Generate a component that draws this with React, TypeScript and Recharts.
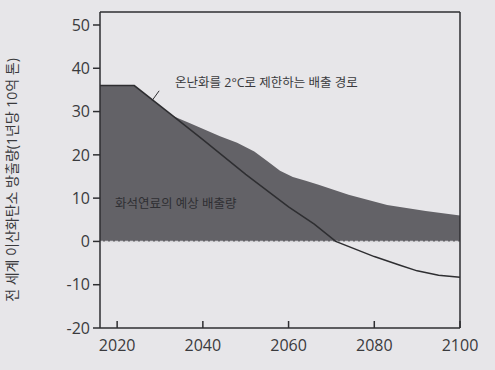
import {
  ComposedChart,
  Area,
  Line,
  XAxis,
  YAxis,
  ReferenceLine,
  ReferenceDot,
  Label,
} from "recharts";

// 화석연료의 예상 배출량 (10억 톤/년)
const fossilYears = [2016, 2024, 2033, 2037, 2044, 2048, 2052, 2055, 2058, 2061, 2064, 2067, 2074, 2083, 2092, 2100];
const fossilValues = [36, 36, 29, 27.3, 24.3, 22.8, 20.8, 18.6, 16.3, 14.9, 14.0, 13.1, 10.8, 8.4, 7, 6];

// 온난화를 2°C로 제한하는 배출 경로
const pathYears = [2016, 2024, 2033, 2040, 2050, 2060, 2066, 2071, 2080, 2086, 2090, 2095, 2100];
const pathValues = [36, 36, 29, 23.5, 15.5, 8, 4, 0, -3.5, -5.5, -6.8, -7.8, -8.3];

const xTicks = [2020, 2040, 2060, 2080, 2100];
const yTicks = [-20, -10, 0, 10, 20, 30, 40, 50];

const fossilData = fossilYears.map((year, i) => ({ year, value: fossilValues[i] }));
const pathData = pathYears.map((year, i) => ({ year, value: pathValues[i] }));

const INK = "#2e2e31";
const TEXT = "#3a3a3d";

function XTick({ x, y, payload }: any) {
  return (
    <g>
      <line x1={x} y1={y} x2={x} y2={y - 7} stroke={INK} strokeWidth={1.5} />
      <text x={x} y={y + 23} textAnchor="middle" fill={TEXT} fontSize={16}>
        {payload.value}
      </text>
    </g>
  );
}

export default function App() {
  return (
    <div
      style={{
        position: "absolute",
        left: 0,
        top: 0,
        width: 495,
        height: 370,
        background: "#e7e6e9",
        fontFamily: "'Open Sans', 'Noto Sans CJK KR', sans-serif",
      }}
    >
      <ComposedChart
        width={495}
        height={370}
        margin={{ top: 12, right: 35, left: 0, bottom: 0 }}
      >
        <XAxis
          dataKey="year"
          type="number"
          domain={[2016, 2100]}
          ticks={xTicks}
          allowDataOverflow
          axisLine={{ stroke: INK, strokeWidth: 1.5 }}
          tickLine={false}
          tickSize={0}
          tickMargin={0}
          tick={<XTick />}
          height={42}
        />
        <YAxis
          type="number"
          domain={[-20, 53]}
          ticks={yTicks}
          allowDataOverflow
          width={100}
          axisLine={{ stroke: INK, strokeWidth: 1.5 }}
          tickLine={{ stroke: INK, strokeWidth: 1.5 }}
          tickSize={7}
          tickMargin={3}
          tick={{ fill: TEXT, fontSize: 16 }}
          label={
            <Label
              content={() => (
                <text
                  x={17}
                  y={180}
                  transform="rotate(-90, 17, 180)"
                  textAnchor="middle"
                  fill={TEXT}
                  fontSize={14}
                >
                  전 세계 이산화탄소 방출량(1년당 10억 톤)
                </text>
              )}
            />
          }
        />
        <Area
          data={fossilData}
          dataKey="value"
          type="linear"
          baseValue={0}
          fill="#636267"
          fillOpacity={1}
          stroke="none"
          isAnimationActive={false}
        />
        <ReferenceLine y={0} stroke="#d8d7db" strokeWidth={1.5} strokeDasharray="3 2" />
        <ReferenceLine y={53} stroke={INK} strokeWidth={1.5} />
        <ReferenceLine x={2100} stroke={INK} strokeWidth={1.5} />
        <Line
          data={pathData}
          dataKey="value"
          type="linear"
          stroke={INK}
          strokeWidth={1.5}
          dot={false}
          isAnimationActive={false}
        />
        <ReferenceLine
          segment={[
            { x: 2028.2, y: 32.6 },
            { x: 2029.8, y: 34.8 },
          ]}
          stroke={INK}
          strokeWidth={1}
        />
        <ReferenceDot
          x={2033.5}
          y={36.6}
          r={0}
          fill="none"
          stroke="none"
          label={{
            value: "온난화를 2°C로 제한하는 배출 경로",
            position: "right",
            offset: 0,
            fill: TEXT,
            fontSize: 12.5,
          }}
        />
        <ReferenceDot
          x={2019.5}
          y={8.8}
          r={0}
          fill="none"
          stroke="none"
          label={{
            value: "화석연료의 예상 배출량",
            position: "right",
            offset: 0,
            fill: "#2f2f33",
            fontSize: 12.5,
          }}
        />
      </ComposedChart>
    </div>
  );
}
